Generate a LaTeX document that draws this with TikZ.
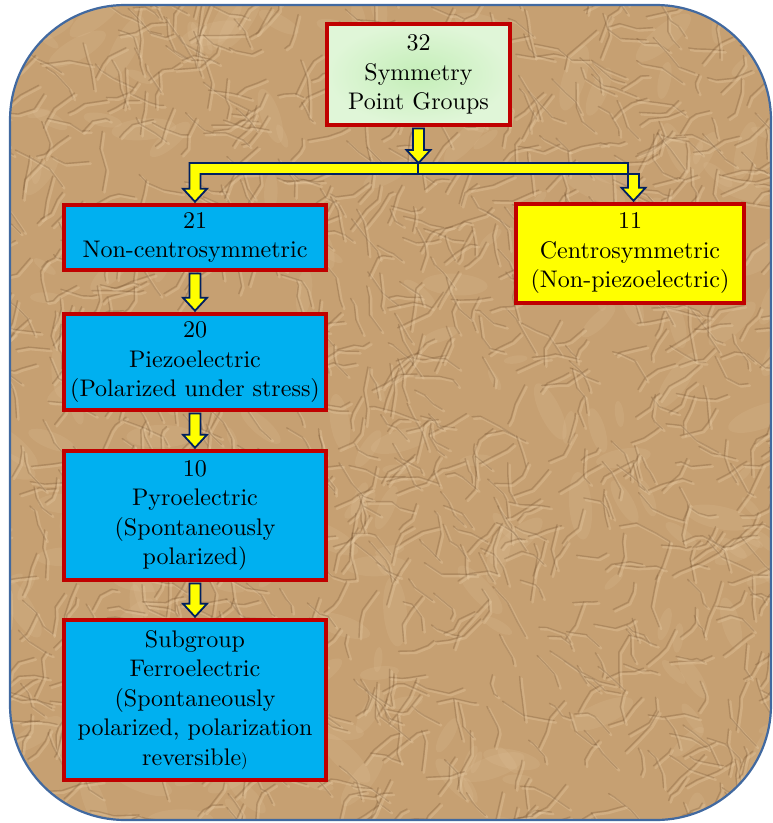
\documentclass[tikz,border=0pt]{standalone}
\usepackage{fontspec}
\setmainfont{lmroman10-regular.otf}
\usetikzlibrary{calc}
\definecolor{papertan}{RGB}{198,160,114}
\definecolor{creasedark}{RGB}{120,86,52}
\definecolor{creaselight}{RGB}{232,204,165}
\definecolor{frameblue}{RGB}{65,105,160}
\definecolor{boxred}{RGB}{192,0,0}
\definecolor{boxcyan}{RGB}{0,176,240}
\definecolor{boxyellow}{RGB}{255,255,0}
\definecolor{arrownavy}{RGB}{0,32,96}
\definecolor{greenin}{RGB}{196,238,184}
\definecolor{greenout}{RGB}{224,246,216}
\tikzset{
  box/.style={draw=boxred, line width=3.5pt, align=center, inner sep=0pt,
    font=\fontsize{24}{29.5}\selectfont, text=black},
  cyanbox/.style={box, fill=boxcyan, minimum width=262pt},
  blockarrow/.style={fill=boxyellow, draw=arrownavy, line width=1.8pt, line join=miter},
}
\newcommand\vblock[2]{%
  \path[blockarrow] let \p1=(#1), \p2=(#2) in
    ({\x1-5.5pt},\y1) -- ({\x1+5.5pt},\y1) -- ({\x1+5.5pt},{\y2+13pt}) --
    ({\x1+12pt},{\y2+13pt}) -- (\x1,\y2) -- ({\x1-12pt},{\y2+13pt}) --
    ({\x1-5.5pt},{\y2+13pt}) -- cycle;}
\newcommand\elbow[2]{%
  \path[blockarrow] let \p1=(#1), \p2=(#2) in
    (\x1,{\y1+5.5pt}) -- ({\x2-5.5pt},{\y1+5.5pt}) -- ({\x2-5.5pt},{\y2+13pt}) --
    ({\x2-12pt},{\y2+13pt}) -- (\x2,\y2) -- ({\x2+12pt},{\y2+13pt}) --
    ({\x2+5.5pt},{\y2+13pt}) -- ({\x2+5.5pt},{\y1-5.5pt}) -- (\x1,{\y1-5.5pt}) -- cycle;}
\begin{document}
\begin{tikzpicture}[x=1pt,y=-1pt]
\useasboundingbox (0,0) rectangle (773,823);
% background paper
\fill[papertan, rounded corners=115pt] (10,5) rectangle (771,820);
\begin{scope}
  \clip[rounded corners=115pt] (10,5) rectangle (771,820);
  \pgfmathsetseed{4242}
  \foreach \i in {1,...,220}{
    \pgfmathsetmacro\xa{rnd*790}
    \pgfmathsetmacro\ya{rnd*840}
    \pgfmathsetmacro\rr{6+rnd*14}
    \pgfmathsetmacro\rot{rnd*180}
    \fill[creaselight, opacity=.14, rotate around={\rot:(\xa,\ya)}]
      (\xa,\ya) ellipse[x radius=\rr*1.8, y radius=\rr*0.6];
  }
  \foreach \i in {1,...,1100}{
    \pgfmathsetmacro\xa{rnd*790}
    \pgfmathsetmacro\ya{rnd*840}
    \pgfmathsetmacro\ang{rnd*360}
    \pgfmathsetmacro\angb{\ang+rnd*80-40}
    \pgfmathsetmacro\angc{\angb+rnd*80-40}
    \pgfmathsetmacro\len{6+rnd*20}
    \pgfmathsetmacro\lenb{5+rnd*18}
    \pgfmathsetmacro\lenc{4+rnd*14}
    \draw[creaselight, line width=2.4pt, opacity=.33, line cap=round, line join=round]
      (\xa+2,\ya+2) -- ++(\ang:\len) -- ++(\angb:\lenb) -- ++(\angc:\lenc);
    \draw[creasedark, line width=1.4pt, opacity=.3, line cap=round, line join=round]
      (\xa,\ya) -- ++(\ang:\len) -- ++(\angb:\lenb) -- ++(\angc:\lenc);
  }
\end{scope}
\draw[frameblue, line width=2.2pt, rounded corners=115pt] (10,5) rectangle (771,820);

% boxes
\node[box, inner color=greenin, outer color=greenout, minimum width=183pt, minimum height=101pt]
  (top) at (418.5,74.5) {32\\Symmetry\\Point Groups};
\node[cyanbox, minimum height=65pt] (n21) at (195,237.5) {21\\Non-centrosymmetric};
\node[box, fill=boxyellow, minimum width=228pt, minimum height=99pt]
  (n11) at (630,253.5) {11\\Centrosymmetric\\(Non-piezoelectric)};
\node[cyanbox, minimum height=96pt] (n20) at (195,362) {20\\Piezoelectric\\(Polarized under stress)};
\node[cyanbox, minimum height=129pt] (n10) at (195,515.5) {10\\Pyroelectric\\(Spontaneously\\polarized)};
\node[cyanbox, minimum height=160pt] (nf) at (195,700)
  {Subgroup\\Ferroelectric\\(Spontaneously\\polarized, polarization\\reversible{\fontsize{17}{29.5}\selectfont)}};

% connectors
\coordinate (bar) at (418,168.5);
\elbow{bar}{$(n21.north)+(0,-1.5)$}
\elbow{bar}{$(n11.north)+(3.5,-1.5)$}
\vblock{$(top.south)+(0,1.8)$}{$(bar)+(0,-5.5)$}
\vblock{$(n21.south)+(0,1.8)$}{$(n20.north)+(0,-1.5)$}
\vblock{$(n20.south)+(0,1.8)$}{$(n10.north)+(0,-1.5)$}
\vblock{$(n10.south)+(0,1.8)$}{$(nf.north)+(0,-1.5)$}
\end{tikzpicture}
\end{document}
